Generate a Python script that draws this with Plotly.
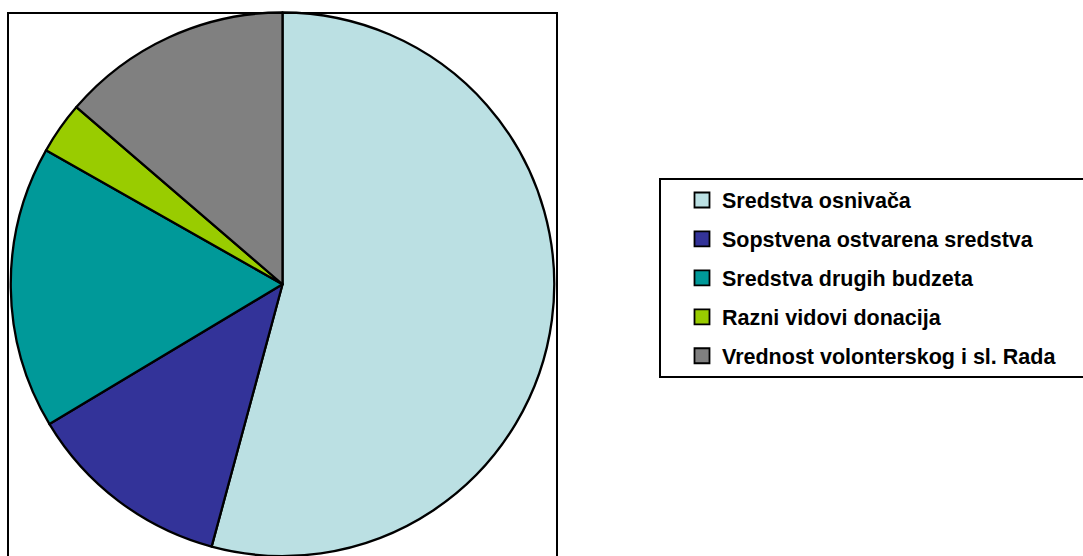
import plotly.graph_objects as go

# Data
labels = ["Sredstva osnivača", "Sopstvena ostvarena sredstva", "Sredstva drugih budzeta",
          "Razni vidovi donacija", "Vrednost volonterskog i sl. Rada"]
values = [54.2, 12.2, 16.8, 3.1, 13.7]
colors = ["#BBE0E3", "#333399", "#009999", "#99CC00", "#808080"]

W, H = 1083, 556

fig = go.Figure()
fig.add_trace(go.Pie(
    labels=labels, values=values, sort=False, direction="clockwise", rotation=0,
    marker=dict(colors=colors, line=dict(color="black", width=2.3)),
    textinfo="none", showlegend=False, hoverinfo="label+percent",
    domain=dict(x=[10.5 / W, 554.5 / W], y=[0, 1 - 12.5 / H]),
))

# Legend entries (one group per label for vertical spacing)
for lab, col in zip(labels, colors):
    fig.add_trace(go.Scatter(
        x=[None], y=[None], mode="markers", name=lab, legendgroup=lab,
        marker=dict(symbol="square", size=15, color=col, line=dict(color="black", width=1.8)),
    ))

fig.update_layout(
    width=W, height=H,
    margin=dict(l=0, r=0, t=0, b=0),
    paper_bgcolor="white", plot_bgcolor="rgba(0,0,0,0)",
    xaxis=dict(visible=False), yaxis=dict(visible=False),
    showlegend=True,
    legend=dict(
        x=682 / W, y=1 - 179.5 / H, xanchor="left", yanchor="top",
        traceorder="grouped", tracegroupgap=8,
        bgcolor="rgba(0,0,0,0)", borderwidth=0,
        font=dict(family="Liberation Sans, Arial, sans-serif", size=21.5, color="black", weight="bold"),
        itemclick=False, itemdoubleclick=False,
    ),
    shapes=[
        dict(type="rect", xref="paper", yref="paper",
             x0=8 / W, x1=557 / W, y0=-0.05, y1=1 - 13 / H,
             line=dict(color="black", width=2), fillcolor="rgba(0,0,0,0)", layer="above"),
        dict(type="rect", xref="paper", yref="paper",
             x0=660 / W, x1=1.02, y0=1 - 377 / H, y1=1 - 179 / H,
             line=dict(color="black", width=2), fillcolor="rgba(0,0,0,0)", layer="above"),
    ],
)

fig.write_html("out.html", config={"displayModeBar": False},
               post_script="document.body.style.margin='0';document.body.style.overflow='hidden';")
